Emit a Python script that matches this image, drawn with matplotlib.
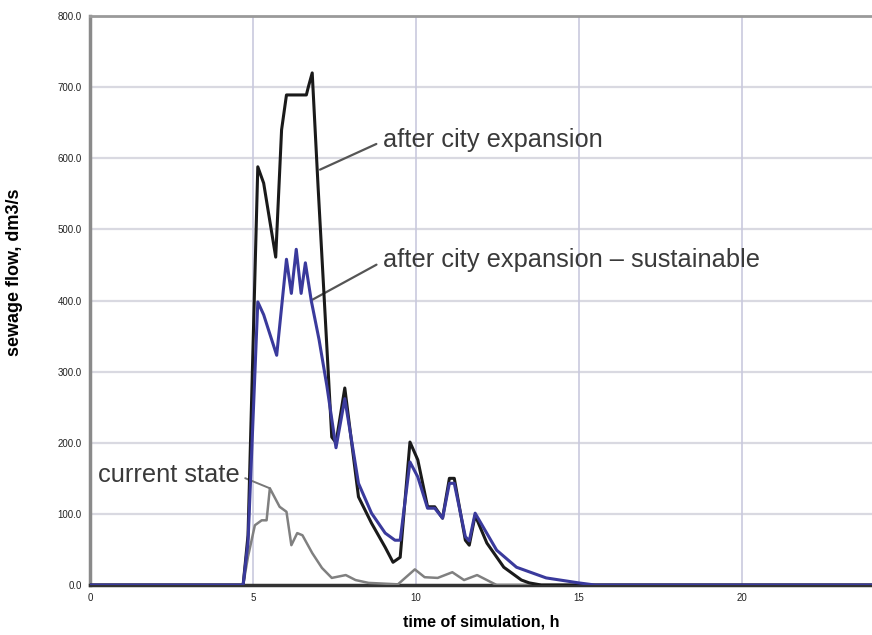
import matplotlib
matplotlib.use("Agg")
import matplotlib.pyplot as plt

# ---- data (hours, dm3/s) ----
expansion_t = [0, 4.70, 4.85, 5.15, 5.33, 5.70, 5.88, 6.03, 6.64, 6.70, 6.82, 7.00, 7.18, 7.42, 7.55,
               7.82, 8.24, 8.64, 9.06, 9.30, 9.52, 9.82, 10.06, 10.36, 10.58, 10.82, 11.03, 11.18,
               11.52, 11.64, 11.82, 12.18, 12.70, 13.24, 13.48, 13.85, 24]
expansion_q = [0, 0, 70, 588, 565, 461, 640, 689, 689, 700, 720, 560, 410, 208, 200,
               277, 124, 87, 53, 32, 39, 201, 176, 110, 110, 94, 150, 150,
               63, 56, 98, 59, 25, 7, 3, 0, 0]

sustain_t = [0, 4.70, 4.85, 5.15, 5.33, 5.73, 6.03, 6.18, 6.33, 6.48, 6.61, 6.79, 7.03, 7.27, 7.55,
             7.82, 8.24, 8.64, 9.06, 9.36, 9.52, 9.82, 10.06, 10.36, 10.58, 10.82, 11.03, 11.18,
             11.52, 11.64, 11.82, 12.48, 13.09, 14.0, 15.0, 15.5, 24]
sustain_q = [0, 0, 60, 398, 380, 323, 458, 410, 472, 410, 453, 400, 345, 280, 193,
             262, 143, 101, 73, 63, 63, 173, 152, 108, 108, 94, 143, 143,
             68, 62, 101, 49, 25, 10, 3, 0, 0]

current_t = [0, 4.70, 4.85, 5.06, 5.27, 5.42, 5.52, 5.82, 6.03, 6.18, 6.36, 6.52, 6.82, 7.12, 7.42,
             7.85, 8.15, 8.55, 9.45, 9.97, 10.27, 10.67, 11.12, 11.48, 11.88, 12.18, 12.48, 24]
current_q = [0, 0, 40, 84, 91, 91, 136, 110, 103, 56, 73, 70, 45, 24, 10,
             14, 7, 3, 1, 22, 11, 10, 18, 7, 14, 7, 0, 0]

y_ticks = [0, 100, 200, 300, 400, 500, 600, 700, 800]
y_labels = ["0.0", "100.0", "200.0", "300.0", "400.0", "500.0", "600.0", "700.0", "800.0"]
x_ticks = [0, 5, 10, 15, 20]
x_labels = ["0", "5", "10", "15", "20"]

plt.rcParams['font.family'] = ['Liberation Sans', 'DejaVu Sans']

fig = plt.figure(figsize=(8.72, 6.35), dpi=100)
ax = fig.add_axes([0.1032, 0.0787, 0.8968, 0.8961])

ax.set_xlim(0, 24)
ax.set_ylim(0, 800)

# grid
for y in y_ticks[1:]:
    ax.axhline(y, color="#d9d9e1", lw=1.6, zorder=0)
for x in x_ticks[1:]:
    ax.axvline(x, color="#c9c9de", lw=1.2, zorder=0)

ax.plot(current_t, current_q, color="#808080", lw=1.8, zorder=3)
ax.plot(expansion_t, expansion_q, color="#1a1a1a", lw=2.2, zorder=4)
ax.plot(sustain_t, sustain_q, color="#3a3a9c", lw=2.2, zorder=5)

# spines
ax.spines['left'].set_color("#8a8a8a")
ax.spines['left'].set_linewidth(2.5)
ax.spines['bottom'].set_color("#333333")
ax.spines['bottom'].set_linewidth(2.5)
ax.spines['top'].set_color("#9a9a9a")
ax.spines['top'].set_linewidth(2.0)
ax.spines['right'].set_visible(False)

ax.set_yticks(y_ticks)
ax.set_yticklabels(y_labels)
ax.set_xticks(x_ticks)
ax.set_xticklabels(x_labels)
ax.tick_params(axis='both', length=0, labelsize=7, colors="#222222")
ax.tick_params(axis='y', pad=6)
ax.tick_params(axis='x', pad=6)

ax.set_ylabel("sewage flow, dm3/s", fontsize=13, fontweight='bold', va='center')
ax.yaxis.set_label_coords(-0.096, 0.55)
ax.set_xlabel("time of simulation, h", fontsize=11.5, fontweight='bold', labelpad=8)

# annotations
ax.annotate("after city expansion", xy=(7.06, 584), xytext=(8.99, 626),
            fontsize=18.3, color="#3a3a3a", va='center', ha='left',
            arrowprops=dict(arrowstyle='-', color="#555555", lw=1.6,
                            relpos=(0, 0.45), shrinkA=3, shrinkB=0))
ax.annotate("after city expansion \u2013 sustainable", xy=(6.82, 401), xytext=(8.99, 457),
            fontsize=18.3, color="#3a3a3a", va='center', ha='left',
            arrowprops=dict(arrowstyle='-', color="#555555", lw=1.6,
                            relpos=(0, 0.45), shrinkA=3, shrinkB=0))
ax.annotate("current state", xy=(5.52, 136), xytext=(4.60, 155),
            fontsize=18.3, color="#3a3a3a", va='center', ha='right',
            arrowprops=dict(arrowstyle='-', color="#777777", lw=1.4,
                            relpos=(1, 0.45), shrinkA=2, shrinkB=0))

fig.savefig("out.png", dpi=100)
